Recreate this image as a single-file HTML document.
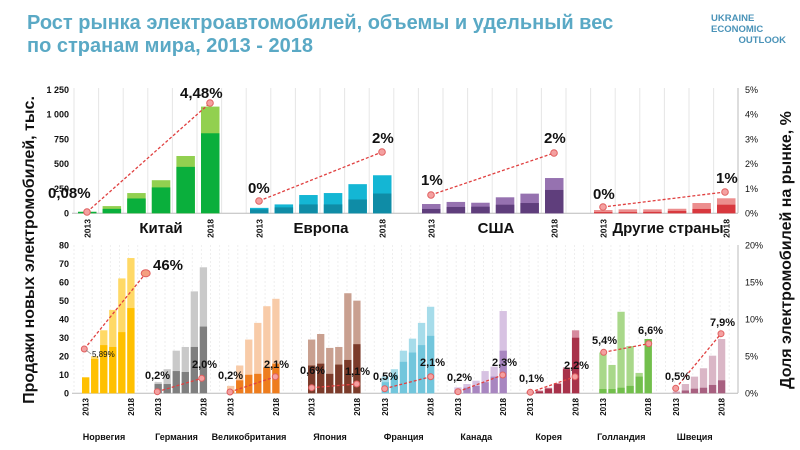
<!DOCTYPE html>
<html><head><meta charset="utf-8"><style>
html,body{margin:0;padding:0;background:#fff;width:800px;height:450px;overflow:hidden}
svg{display:block;font-family:"Liberation Sans","DejaVu Sans",sans-serif}
</style></head><body>
<svg id="s" width="800" height="450" xmlns="http://www.w3.org/2000/svg">
<text x="27" y="29" font-size="20" font-weight="bold" fill="#5aa9c5">Рост рынка электроавтомобилей, объемы и удельный вес</text>
<text x="27" y="52" font-size="20" font-weight="bold" fill="#5aa9c5">по странам мира, 2013 - 2018</text>
<text x="711" y="21" font-size="9.5" fill="#4a93b8" font-weight="bold">UKRAINE</text>
<text x="711" y="32" font-size="9.5" fill="#4a93b8" font-weight="bold">ECONOMIC</text>
<text x="786" y="43" font-size="9.5" fill="#4a93b8" font-weight="bold" text-anchor="end">OUTLOOK</text>
<text transform="translate(34,250) rotate(-90)" font-size="16" font-weight="bold" text-anchor="middle" fill="#111">Продажи новых электромобилей, тыс.</text>
<text transform="translate(791,250) rotate(-90)" font-size="16" font-weight="bold" text-anchor="middle" fill="#111">Доля электромобилей на рынке, %</text>
<g id="g"></g>
</svg>
<script>
var o='';
function R(x,y,w,h,c){o+='<rect x="'+x+'" y="'+y+'" width="'+w+'" height="'+h+'" fill="'+c+'"/>';}
function T(x,y,s,t,a,sz,w){o+='<text x="'+x+'" y="'+y+'" font-size="'+sz+'" font-weight="'+(w||'bold')+'" text-anchor="'+(a||'start')+'" fill="#111">'+t+'</text>';}
function RT(x,y,t,sz){o+='<text transform="translate('+x+','+y+') rotate(-90)" font-size="'+sz+'" font-weight="bold" text-anchor="end" fill="#111">'+t+'</text>';}
function L(x1,y1,x2,y2,c,w,d){o+='<line x1="'+x1+'" y1="'+y1+'" x2="'+x2+'" y2="'+y2+'" stroke="'+c+'" stroke-width="'+(w||1)+'"'+(d?' stroke-dasharray="'+d+'"':'')+'/>';}
function C(x,y,r){o+='<circle cx="'+x+'" cy="'+y+'" r="'+r+'" fill="#f4a0a0" stroke="#e06060" stroke-width="1"/>';}
for(var x=74;x<738;x+=24.6)L(x,88,x,213,'#e6e6e6',1);
for(var x=74;x<738;x+=9.1)L(x,245,x,393,'#eeeeee',1,'2,2');
L(72,213.3,738,213.3,'#bbb',1);L(72,393.3,738,393.3,'#bbb',1);
L(738,88,738,213,'#bbb',1);L(738,245,738,393,'#bbb',1);
var tl=['0','250','500','750','1 000','1 250'];
for(var i=0;i<6;i++){T(69,216.5-i*24.7,0,tl[i],'end',9);T(745,216.5-i*24.7,0,i+'%','start',9,'normal');}
var bl=['0','10','20','30','40','50','60','70','80'];
for(var i=0;i<9;i++)T(69,396.5-i*18.53,0,bl[i],'end',9);
for(var i=0;i<5;i++)T(745,396.5-i*37.05,0,(i*5)+'%','start',9,'normal');
var k=0.0988;
var tg=[
 [78,'#92d050','#0aaf3c',[[15,15],[73,45],[205,150],[335,262],[580,470],[1080,810]],'Китай',161],
 [250,'#14b6d4','#0f8ca6',[[55,40],[90,60],[185,90],[205,90],[295,140],[385,200]],'Европа',321],
 [422,'#9672b0','#5f3e7c',[[94,44],[115,64],[107,67],[162,87],[199,104],[357,236]],'США',496],
 [594,'#ec8e8e','#d8383e',[[33,12],[40,12],[40,14],[46,24],[104,44],[152,87]],'Другие страны',668]];
tg.forEach(function(g){for(var i=0;i<6;i++){var x=g[0]+i*24.6,t=g[3][i];R(x,213.3-t[0]*k,18.5,t[0]*k,g[1]);R(x,213.3-t[1]*k,18.5,t[1]*k,g[2]);}
 RT(g[0]+12.5,219,'2013',8.5);RT(g[0]+5*24.6+12.5,219,'2018',8.5);T(g[5],233,0,g[4],'middle',15);});
var tlns=[[87,212,210,103,'0,08%',48,198,'4,48%',180,98],[259,201,382,152,'0%',248,193,'2%',372,143],[431,195,554,153,'1%',421,185,'2%',544,143],[603,207,725,192,'0%',593,199,'1%',716,183]];
tlns.forEach(function(l){L(l[0],l[1],l[2],l[3],'#e04040',1.3,'3,2');C(l[0],l[1],3.3);C(l[2],l[3],3.3);T(l[5],l[6],0,l[4],'start',15);T(l[8],l[9],0,l[7],'start',15);});
var kb=1.853;
var bg=[
 [82,'#ffd966','#ffc000',[[8.6,8.6],[20,18.5],[34,26],[45,25],[62,33],[73,46]],'Норвегия'],
 [154.5,'#c9c9c9','#7f7f7f',[[6,5],[13,5],[23,12],[25,11.5],[55,25],[68,36]],'Германия'],
 [227,'#f8cba8','#ee7d1e',[[4,1.5],[15,7],[29,10],[38,10.5],[47,14],[51,16]],'Великобритания'],
 [308,'#c9a090','#7b3b2a',[[29,15],[32,16],[24.5,10.5],[25,15.5],[54,18],[50,26.5]],'Япония'],
 [381.7,'#a6dcea','#72c6dc',[[9,6],[13,10],[23,17],[29.5,22],[38,26],[46.7,31]],'Франция'],
 [454.3,'#d7c2e2','#a886c0',[[3.2,1.5],[5,3],[6.8,4],[12,6],[14.4,9],[44.4,23]],'Канада'],
 [526.7,'#d68a9e','#a8324a',[[1.1,0.5],[1.5,1],[3,2.5],[5.5,5],[14,13],[34,30]],'Корея'],
 [599.3,'#a9d88a','#72bf4c',[[22,2.3],[15.3,2.3],[44,3],[25.5,4],[11,9],[29.3,29.3]],'Голландия'],
 [672.7,'#dab6c6','#a86080',[[1,0.3],[5,1.5],[9,2.5],[13.5,3],[20.3,4.5],[29.3,7]],'Швеция']];
bg.forEach(function(g){for(var i=0;i<6;i++){var x=g[0]+i*9.05,t=g[3][i];R(x,393.3-t[0]*kb,7.3,t[0]*kb,g[1]);R(x,393.3-t[1]*kb,7.3,t[1]*kb,g[2]);}
 RT(g[0]+6.5,398,'2013',8);RT(g[0]+5*9.05+6.5,398,'2018',8);T(g[0]+22,440,0,g[4],'middle',9);});
var bl2=[[84.3,349,145.7,273.3,'',0,0,'46%',153,270],[157.3,391.7,201.7,378.3,'0,2%',145,379,'2,0%',192,368],[230,392,275.3,376.7,'0,2%',218,379,'2,1%',264,368],[311.7,387.7,356.7,384,'0,6%',300,374,'1,1%',345,375],[384.7,388.7,430.7,376.7,'0,5%',373,380,'2,1%',420,366],[458,391.7,502.7,375,'0,2%',447,381,'2,3%',492,366],[530.3,392.3,575,376.7,'0,1%',519,382,'2,2%',564,369],[603.7,352.3,648.7,343.7,'5,4%',592,344,'6,6%',638,334],[675.7,388.3,721,333.7,'0,5%',665,380,'7,9%',710,326]];
bl2.forEach(function(l,i){L(l[0],l[1],l[2],l[3],'#e04040',1.3,'3,2');C(l[0],l[1],3);
 if(i==0){o+='<ellipse cx="'+l[2]+'" cy="'+l[3]+'" rx="4.5" ry="3.5" fill="#f4a080" stroke="#e06060"/>';}else C(l[2],l[3],3);
 if(l[4])T(l[5],l[6],0,l[4],'start',11,'bold');T(l[8],l[9],0,l[7],'start',i==0?15:11,'bold');});
L(86,350,91,354,'#888',0.8);T(92,357,0,'5,89%','start',8,'normal');
document.getElementById('g').innerHTML=o;
</script>
</body></html>
